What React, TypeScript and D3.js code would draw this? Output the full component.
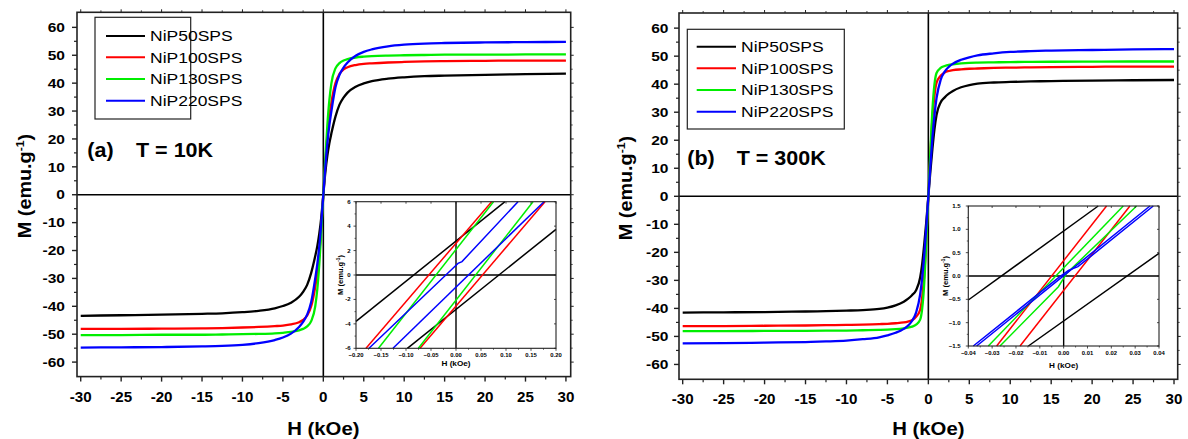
import React from 'react';
import * as d3 from 'd3';

const FONT = "'Liberation Sans', Arial, Helvetica, sans-serif";

// Field grid (kOe) used by all main-panel curves
const fieldH = [-30, -25, -20, -15, -12.5, -10, -8, -6, -5, -4, -3, -2.5, -2, -1.5, -1, -0.75, -0.5, -0.25, 0,
  0.25, 0.5, 0.75, 1, 1.5, 2, 2.5, 3, 4, 5, 6, 8, 10, 12.5, 15, 20, 25, 30];

// Panel (a) T = 10K : magnetization (emu/g)
const aNiP50 = [-43.4, -43.2, -43.0, -42.7, -42.5, -42.1, -41.6, -40.7, -39.9, -38.7, -36.6, -34.8, -32.3, -28, -22, -18.5, -14, -8, 0,
  8, 14, 18.5, 22, 28, 32.3, 34.8, 36.6, 38.7, 39.9, 40.7, 41.6, 42.1, 42.5, 42.7, 43.0, 43.2, 43.4];
const aNiP100 = [-48.1, -48.1, -48.0, -47.9, -47.8, -47.6, -47.4, -47.1, -46.9, -46.5, -45.7, -44.9, -43.3, -40, -33, -28, -21, -11.5, 0,
  11.5, 21, 28, 33, 40, 43.3, 44.9, 45.7, 46.5, 46.9, 47.1, 47.4, 47.6, 47.8, 47.9, 48.0, 48.1, 48.1];
const aNiP130 = [-50.3, -50.3, -50.2, -50.2, -50.1, -50.0, -49.9, -49.7, -49.5, -49.2, -48.6, -48.1, -47.2, -45.3, -40, -34, -25, -13, 0,
  13, 25, 34, 40, 45.3, 47.2, 48.1, 48.6, 49.2, 49.5, 49.7, 49.9, 50.0, 50.1, 50.2, 50.2, 50.3, 50.3];
const aNiP220 = [-54.8, -54.7, -54.6, -54.4, -54.2, -53.8, -53.2, -52.1, -51.2, -49.8, -47.4, -45.6, -43, -38.5, -30, -25, -18.5, -10, 0,
  10, 18.5, 25, 30, 38.5, 43, 45.6, 47.4, 49.8, 51.2, 52.1, 53.2, 53.8, 54.2, 54.4, 54.6, 54.7, 54.8];

// Panel (b) T = 300K
const bNiP50 = [-41.5, -41.4, -41.3, -41.1, -41.0, -40.8, -40.6, -40.2, -39.7, -38.9, -37.6, -36.6, -35.3, -33.5, -29, -24, -17, -9, 0,
  9, 17, 24, 29, 33.5, 35.3, 36.6, 37.6, 38.9, 39.7, 40.2, 40.6, 40.8, 41.0, 41.1, 41.3, 41.4, 41.5];
const bNiP100 = [-46.3, -46.3, -46.2, -46.1, -46.0, -45.9, -45.8, -45.6, -45.5, -45.3, -45.0, -44.7, -44.2, -43, -40.5, -36, -28, -15, 0,
  15, 28, 36, 40.5, 43, 44.2, 44.7, 45.0, 45.3, 45.5, 45.6, 45.8, 45.9, 46.0, 46.1, 46.2, 46.3, 46.3];
const bNiP130 = [-48.1, -48.1, -48.05, -48.0, -47.95, -47.9, -47.8, -47.7, -47.6, -47.4, -47.1, -46.9, -46.5, -45.8, -44, -40, -31, -16, 0,
  16, 31, 40, 44, 45.8, 46.5, 46.9, 47.1, 47.4, 47.6, 47.7, 47.8, 47.9, 47.95, 48.0, 48.05, 48.1, 48.1];
const bNiP220 = [-52.5, -52.4, -52.2, -52.0, -51.8, -51.5, -51.0, -50.3, -49.6, -48.7, -47.3, -46.2, -44.5, -41.5, -35, -29, -21, -11, 0,
  11, 21, 29, 35, 41.5, 44.5, 46.2, 47.3, 48.7, 49.6, 50.3, 51.0, 51.5, 51.8, 52.0, 52.2, 52.4, 52.5];

const seriesNames = ['NiP50SPS', 'NiP100SPS', 'NiP130SPS', 'NiP220SPS'];
const seriesColors = ['#000000', '#ff0000', '#00ee00', '#0000ff'];

// Inset (a): low-field loops, [H (kOe), M] points per branch
const insetA = [
  { c: 0, pts: [[-0.2, -3.8], [0.098, 6]] },
  { c: 0, pts: [[-0.0973, -6], [0.2, 3.74]] },
  { c: 1, pts: [[-0.18, -6], [0.0713, 6]] },
  { c: 1, pts: [[-0.072, -6], [0.178, 6]] },
  { c: 2, pts: [[-0.155, -6], [0.075, 6]] },
  { c: 2, pts: [[-0.0753, -6], [0.154, 6]] },
  { c: 3, pts: [[-0.174, -6], [-0.003, 0.68], [0.004, 0.95], [0.012, 1.1], [0.124, 6]] },
  { c: 3, pts: [[-0.126, -6], [0.176, 6]] },
];
// Inset (b)
const insetB = [
  { c: 0, pts: [[-0.04, -0.514], [0.0145, 1.5]] },
  { c: 0, pts: [[-0.0148, -1.5], [0.04, 0.486]] },
  { c: 1, pts: [[-0.0281, -1.5], [0.018, 1.5]] },
  { c: 1, pts: [[-0.0183, -1.5], [0.0278, 1.5]] },
  { c: 2, pts: [[-0.0316, -1.5], [0.025, 1.5]] },
  { c: 2, pts: [[-0.0267, -1.5], [-0.0022, -0.23], [0.0013, 0.06], [0.0306, 1.5]] },
  { c: 3, pts: [[-0.0379, -1.5], [-0.002, -0.03], [0.002, 0.12], [0.006, 0.2], [0.0376, 1.5]] },
  { c: 3, pts: [[-0.0365, -1.5], [0.0362, 1.5]] },
];

const mainXTicks = d3.range(-30, 30.01, 5);
const mainXMinor = d3.range(-27.5, 30, 5);
const mainYTicks = d3.range(-60, 60.01, 10);
const mainYMinor = d3.range(-55, 60, 10);

function T({ x, y, size, weight = 'normal', anchor = 'start', sx = 1.1, rotate = 0, children, dy = '0.35em' }: any) {
  return (
    <text transform={`translate(${x},${y}) rotate(${rotate}) scale(${sx},1)`} fontSize={size} fontWeight={weight}
      textAnchor={anchor} dy={dy} fontFamily={FONT} fill="#000">{children}</text>
  );
}

function MTitle({ x, y, size, sx = 1.1 }: any) {
  return (
    <text transform={`translate(${x},${y}) rotate(-90) scale(${sx},1)`} fontSize={size} fontWeight="bold"
      textAnchor="middle" dy="0.35em" fontFamily={FONT} fill="#000">
      M (emu.g<tspan fontSize={size * 0.62} dy={-size * 0.4}>-1</tspan><tspan dy={size * 0.4}>)</tspan>
    </text>
  );
}

function Inset({ cfg }: any) {
  const x = d3.scaleLinear().domain(cfg.xd).range([cfg.l, cfg.r]);
  const y = d3.scaleLinear().domain(cfg.yd).range([cfg.b, cfg.t]);
  const line = d3.line<number[]>().x(d => x(d[0])).y(d => y(d[1]));
  return (
    <g>
      <rect x={cfg.l} y={cfg.t} width={cfg.r - cfg.l} height={cfg.b - cfg.t} fill="#fff" />
      <line x1={cfg.l} x2={cfg.r} y1={y(0)} y2={y(0)} stroke="#000" strokeWidth={1.4} />
      <line x1={x(0)} x2={x(0)} y1={cfg.t} y2={cfg.b} stroke="#000" strokeWidth={1.4} />
      {cfg.lines.map((s: any, i: number) => (
        <path key={i} d={line(s.pts) || ''} fill="none" stroke={seriesColors[s.c]} strokeWidth={1.5} />
      ))}
      <rect x={cfg.l} y={cfg.t} width={cfg.r - cfg.l} height={cfg.b - cfg.t} fill="none" stroke="#222" strokeWidth={1.1} />
      {cfg.xt.map((v: number) => (
        <g key={'xt' + v}>
          <line x1={x(v)} x2={x(v)} y1={cfg.b} y2={cfg.b + 2.5} stroke="#222" strokeWidth={0.8} />
          <line x1={x(v)} x2={x(v)} y1={cfg.t} y2={cfg.t + 2} stroke="#222" strokeWidth={0.8} />
          <T x={x(v)} y={cfg.b + cfg.xlo} size={5.6} weight="bold" anchor="middle" sx={1.05}>{cfg.xf(v)}</T>
        </g>
      ))}
      {cfg.xm.map((v: number) => (
        <line key={'xm' + v} x1={x(v)} x2={x(v)} y1={cfg.b} y2={cfg.b + 1.5} stroke="#222" strokeWidth={0.7} />
      ))}
      {cfg.yt.map((v: number) => (
        <g key={'yt' + v}>
          <line x1={cfg.l - 2.5} x2={cfg.l} y1={y(v)} y2={y(v)} stroke="#222" strokeWidth={0.8} />
          <line x1={cfg.r - 2} x2={cfg.r} y1={y(v)} y2={y(v)} stroke="#222" strokeWidth={0.8} />
          <T x={cfg.l - cfg.ylo} y={y(v)} size={5.8} weight="bold" anchor="end" sx={1.05}>{cfg.yf(v)}</T>
        </g>
      ))}
      {cfg.ym.map((v: number) => (
        <line key={'ym' + v} x1={cfg.l - 1.5} x2={cfg.l} y1={y(v)} y2={y(v)} stroke="#222" strokeWidth={0.7} />
      ))}
      <T x={(cfg.l + cfg.r) / 2} y={cfg.b + cfg.xto} size={7.8} weight="bold" anchor="middle" sx={1.05}>H (kOe)</T>
      <MTitle x={cfg.l - cfg.yto} y={(cfg.t + cfg.b) / 2} size={7.2} sx={1.05} />
    </g>
  );
}

function Panel({ p }: any) {
  const x = d3.scaleLinear().domain(p.xd).range([p.l, p.r]);
  const y = d3.scaleLinear().domain(p.yd).range([p.b, p.t]);
  const line = d3.line<number>().x((_, i) => x(fieldH[i])).y(d => y(d)).curve(d3.curveMonotoneX);
  return (
    <g>
      <line x1={p.l} x2={p.r} y1={y(0)} y2={y(0)} stroke="#000" strokeWidth={1.6} />
      <line x1={x(0)} x2={x(0)} y1={p.t} y2={p.b} stroke="#000" strokeWidth={1.6} />
      {p.series.map((s: number[], i: number) => (
        <path key={i} d={line(s) || ''} fill="none" stroke={seriesColors[i]} strokeWidth={2.3} />
      ))}
      <rect x={p.l} y={p.t} width={p.r - p.l} height={p.b - p.t} fill="none" stroke="#222" strokeWidth={1.6} />
      {mainXTicks.map(v => (
        <g key={'x' + v}>
          <line x1={x(v)} x2={x(v)} y1={p.b} y2={p.b + 5} stroke="#222" strokeWidth={1.4} />
          <line x1={x(v)} x2={x(v)} y1={p.t} y2={p.t - 3} stroke="#222" strokeWidth={1} />
          <T x={x(v)} y={p.b + 20} size={14} weight="bold" anchor="middle" sx={1.08}>{v}</T>
        </g>
      ))}
      {mainXMinor.map(v => (
        <g key={'xm' + v}>
          <line x1={x(v)} x2={x(v)} y1={p.b} y2={p.b + 3} stroke="#222" strokeWidth={1.2} />
          <line x1={x(v)} x2={x(v)} y1={p.t} y2={p.t - 2} stroke="#222" strokeWidth={0.8} />
        </g>
      ))}
      {mainYTicks.map(v => (
        <g key={'y' + v}>
          <line x1={p.l - 5} x2={p.l} y1={y(v)} y2={y(v)} stroke="#222" strokeWidth={1.4} />
          <line x1={p.r} x2={p.r + 3} y1={y(v)} y2={y(v)} stroke="#222" strokeWidth={1} />
          <T x={p.l - p.ylo} y={y(v)} size={13.5} weight="bold" anchor="end" sx={1.15}>{v}</T>
        </g>
      ))}
      {mainYMinor.map(v => (
        <g key={'ym' + v}>
          <line x1={p.l - 3} x2={p.l} y1={y(v)} y2={y(v)} stroke="#222" strokeWidth={1.2} />
          <line x1={p.r} x2={p.r + 2} y1={y(v)} y2={y(v)} stroke="#222" strokeWidth={0.8} />
        </g>
      ))}
      <T x={x(0)} y={p.xtY} size={18} weight="bold" anchor="middle" sx={1.13}>H (kOe)</T>
      <MTitle x={p.ytX} y={p.ytY} size={18} sx={1.1} />
      {/* legend */}
      <rect x={p.lg.x} y={p.lg.y} width={p.lg.w} height={p.lg.h} fill="#fff" stroke="#222" strokeWidth={1.2} />
      {seriesNames.map((n, i) => (
        <g key={n}>
          <line x1={p.lg.lx1} x2={p.lg.lx2} y1={p.lg.rows[i]} y2={p.lg.rows[i]} stroke={seriesColors[i]} strokeWidth={2} />
          <T x={p.lg.tx} y={p.lg.rows[i]} size={15.5} sx={1.13}>{n}</T>
        </g>
      ))}
      <T x={p.ann.x1} y={p.ann.y} size={20.5} weight="bold" dy="0" sx={1.05}>{p.ann.a}</T>
      <T x={p.ann.x2} y={p.ann.y} size={20.5} weight="bold" dy="0" sx={1.05}>{p.ann.b}</T>
      <Inset cfg={p.inset} />
    </g>
  );
}

const panelA = {
  l: 77, r: 570.7, t: 12.3, b: 376.6, xd: [-30.46, 30.59], yd: [-65.2, 65.4], ylo: 12,
  series: [aNiP50, aNiP100, aNiP130, aNiP220],
  xtY: 429, ytX: 25, ytY: 186,
  lg: { x: 95, y: 17.3, w: 95.7, h: 101.7, lx1: 106, lx2: 145, tx: 150, rows: [36, 57.3, 79, 100.7] },
  ann: { x1: 87.3, x2: 136, y: 156.7, a: '(a)', b: 'T = 10K' },
  inset: {
    l: 356, r: 556, t: 201.7, b: 348.3, xd: [-0.2, 0.2], yd: [-6, 6],
    xt: d3.range(-0.2, 0.2001, 0.05), xm: d3.range(-0.175, 0.2, 0.05),
    yt: d3.range(-6, 6.01, 2), ym: d3.range(-5, 6, 2),
    xf: (v: number) => d3.format('.2f')(Math.abs(v) < 1e-9 ? 0 : v), yf: (v: number) => String(Math.round(v)),
    xlo: 6.7, ylo: 5.3, xto: 15, yto: 16, lines: insetA,
  },
};

const panelB = {
  l: 679, r: 1177.7, t: 13, b: 379.3, xd: [-30.45, 30.45], yd: [-65.3, 65.4], ylo: 10.5,
  series: [bNiP50, bNiP100, bNiP130, bNiP220],
  xtY: 429, ytX: 626, ytY: 188,
  lg: { x: 687.3, y: 29.3, w: 157, h: 99.7, lx1: 696.7, lx2: 736, tx: 741, rows: [46.7, 68.3, 90, 111.7] },
  ann: { x1: 687.3, x2: 736.7, y: 165, a: '(b)', b: 'T = 300K' },
  inset: {
    l: 968.3, r: 1159, t: 206, b: 346, xd: [-0.04, 0.04], yd: [-1.5, 1.5],
    xt: d3.range(-0.04, 0.04001, 0.01), xm: d3.range(-0.035, 0.04, 0.01),
    yt: d3.range(-1.5, 1.501, 0.5), ym: d3.range(-1.25, 1.5, 0.5),
    xf: (v: number) => d3.format('.2f')(Math.abs(v) < 1e-9 ? 0 : v), yf: (v: number) => d3.format('.1f')(Math.abs(v) < 1e-9 ? 0 : v),
    xlo: 7.3, ylo: 7.6, xto: 19, yto: 23, lines: insetB,
  },
};

export default function App() {
  return (
    <svg width={1188} height={439} viewBox="0 0 1188 439"
      style={{ position: 'fixed', left: 0, top: 0, background: '#fff' }}>
      <rect x={0} y={0} width={1188} height={439} fill="#fff" />
      <Panel p={panelA} />
      <Panel p={panelB} />
    </svg>
  );
}
